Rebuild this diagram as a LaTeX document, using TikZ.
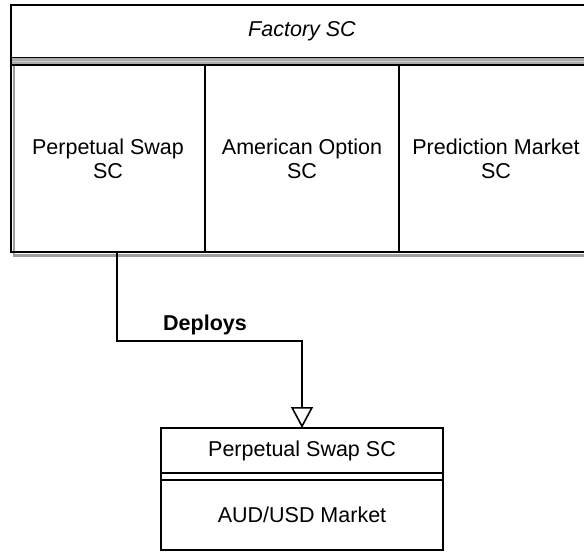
\documentclass[tikz,border=0pt]{standalone}
\usepackage{fontspec}
\setmainfont{Liberation Sans}
\usetikzlibrary{arrows.meta,calc}
\begin{document}
\begin{tikzpicture}[x=1pt,y=-1pt,
  ln/.style={line width=1.6pt,draw=black},
  shad/.style={line width=2.2pt,draw=black!38},
  txt/.style={font=\fontsize{21.5}{24}\selectfont,align=center,inner sep=0pt,outer sep=0pt},
  comp/.style={ln,txt,minimum width=194pt,minimum height=187pt},
  cls/.style={ln,txt,minimum width=282pt}]
\useasboundingbox (0,0) rectangle (584,552);
\clip (0,0) rectangle (584,552);
% shadow of the factory container
\draw[shad] (14,8) rectangle (596,255.5);
% header
\node[ln,txt,fill=white,minimum width=582pt,minimum height=53pt] (hdr) at (302,31.5) {\itshape Factory SC};
\fill[black!32] (hdr.south west) rectangle ($(hdr.south east)+(0,7)$);
\draw[black!20,line width=0.8pt] ($(hdr.south west)+(0,3.5)$) -- ($(hdr.south east)+(0,3.5)$);
% compartments
\node[comp] (c1) at (108,158.5) {Perpetual Swap\\SC};
\node[comp] (c2) at (302,158.5) {American Option\\SC};
\node[comp] (c3) at (496,158.5) {Prediction Market\\SC};
\draw[ln] (hdr.north west) rectangle (c3.south east);
% deployed class
\node[cls,minimum height=45pt] (ps) at (302,450.5) {Perpetual Swap SC};
\node[cls,minimum height=70pt] (aud) at (302,515) {AUD/USD Market};
\draw[ln] (ps.south west) -- (aud.north west) (ps.south east) -- (aud.north east);
% connector
\draw[ln,-{Triangle[open,length=21pt,width=22pt]}] ([xshift=9pt]c1.south) -- ++(0,89) coordinate (bend) -| (ps.north);
\node[font=\fontsize{21.5}{24}\selectfont\bfseries,anchor=west,inner sep=0pt] (lbl) at ($(bend)+(46,-16)$) {Deploys};
\end{tikzpicture}
\end{document}
